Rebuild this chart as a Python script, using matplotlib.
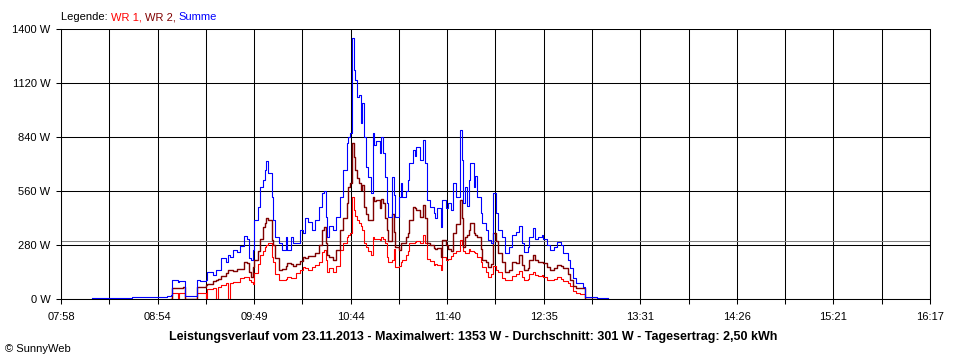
"""SunnyWeb Tagesverlauf 23.11.2013 - Leistung WR 1, WR 2 und Summe."""

import matplotlib

matplotlib.use("Agg")
import matplotlib.pyplot as plt
import numpy as np

plt.rcParams["font.family"] = ["Liberation Sans", "DejaVu Sans"]
plt.rcParams["font.size"] = 8

# Messzeitpunkte (HH:MM) und Leistung in W (None = Linie nicht sichtbar)
zeit = [
    "08:16", "08:26", "08:39", "08:53", "08:59", "09:01", "09:02", "09:05", "09:06", "09:08",
    "09:09", "09:12", "09:15", "09:16", "09:18", "09:21", "09:22", "09:25", "09:27", "09:28",
    "09:30", "09:33", "09:34", "09:35", "09:37", "09:39", "09:41", "09:43", "09:45", "09:46",
    "09:47", "09:48", "09:49", "09:51", "09:52", "09:54", "09:55", "09:56", "09:57", "09:59",
    "10:00", "10:01", "10:03", "10:05", "10:07", "10:08", "10:10", "10:11", "10:13", "10:15",
    "10:17", "10:18", "10:20", "10:22", "10:24", "10:26", "10:28", "10:29", "10:30", "10:31",
    "10:32", "10:34", "10:36", "10:38", "10:40", "10:42", "10:43", "10:44", "10:45", "10:46",
    "10:47", "10:48", "10:49", "10:50", "10:51", "10:52", "10:53", "10:54", "10:56", "10:57",
    "10:58", "10:59", "11:01", "11:02", "11:03", "11:04", "11:05", "11:06", "11:08", "11:09",
    "11:10", "11:12", "11:13", "11:14", "11:16", "11:17", "11:18", "11:20", "11:21", "11:22",
    "11:24", "11:26", "11:27", "11:28", "11:30", "11:32", "11:33", "11:34", "11:36", "11:37",
    "11:39", "11:40", "11:42", "11:43", "11:45", "11:47", "11:48", "11:49", "11:50", "11:51",
    "11:52", "11:53", "11:55", "11:56", "11:57", "11:59", "12:00", "12:02", "12:03", "12:05",
    "12:06", "12:08", "12:09", "12:11", "12:13", "12:15", "12:17", "12:19", "12:21", "12:23",
    "12:24", "12:26", "12:27", "12:29", "12:30", "12:32", "12:34", "12:35", "12:37", "12:39",
    "12:41", "12:43", "12:45", "12:46", "12:49", "12:50", "12:52", "12:54", "12:56", "12:58",
    "12:59", "13:06", "13:12",
]
wr1 = [
    None, None, None, None, None, 0, 31, 0, 32, 31,
    0, 0, 0, 31, 33, 0, 50, 55, 0, 62,
    75, 83, 0, 85, 88, 90, 108, 114, 114, 100,
    88, 80, 135, 180, 228, 250, 270, 280, 290, 218,
    190, 130, 98, 98, 105, 114, 110, 108, 135, 150,
    166, 160, 150, 166, 175, 190, 245, 254, 200, 140,
    160, 140, 170, 254, 290, 322, 330, 340, 529, 461,
    430, 410, 394, 380, 360, 290, 270, 250, 230, 322,
    310, 312, 305, 322, 310, 290, 220, 190, 200, 260,
    166, 170, 190, 200, 230, 250, 290, 290, 295, 300,
    290, 332, 290, 210, 195, 176, 180, 176, 150, 218,
    200, 210, 225, 238, 250, 306, 280, 250, 238, 240,
    260, 250, 245, 238, 220, 190, 166, 140, 114, 130,
    170, 150, 140, 110, 98, 100, 120, 130, 145, 114,
    98, 105, 130, 140, 125, 120, 125, 115, 98, 100,
    105, 114, 105, 95, 83, 65, 40, 31, 25, 25,
    0, None, None,
]
wr2 = [
    None, None, None, None, None, 0, 57, 55, 57, 60,
    0, 0, 0, 62, 62, 73, 80, 95, 100, 105,
    120, 135, 148, 150, 145, 155, 155, 193, 185, 140,
    114, 166, 200, 250, 310, 373, 395, 420, 410, 306,
    280, 215, 150, 155, 170, 187, 180, 170, 180, 195,
    218, 215, 222, 222, 240, 280, 360, 373, 290, 230,
    218, 202, 254, 358, 420, 498, 580, 600, 809, 736,
    669, 630, 601, 565, 590, 477, 440, 410, 410, 529,
    510, 515, 470, 520, 500, 420, 358, 300, 440, 350,
    270, 254, 290, 290, 320, 342, 410, 477, 470, 460,
    425, 487, 420, 290, 280, 264, 260, 264, 218, 306,
    280, 260, 250, 342, 390, 513, 420, 270, 320, 330,
    360, 394, 342, 330, 322, 260, 202, 190, 166, 180,
    342, 300, 240, 190, 140, 150, 190, 185, 228, 176,
    150, 160, 200, 228, 200, 190, 193, 185, 165, 150,
    160, 176, 170, 160, 130, 100, 70, 57, 57, 55,
    0, None, None,
]
summe = [
    5, 6, 9, 12, 16, 20, 98, 90, 92, 95,
    17, 15, 15, 98, 95, 100, 140, 125, 148, 150,
    212, 193, 230, 218, 254, 245, 275, 327, 310, 212,
    202, 254, 410, 477, 580, 617, 669, 715, 653, 529,
    410, 322, 290, 254, 322, 254, 322, 290, 290, 358,
    340, 420, 400, 358, 410, 477, 550, 560, 425, 322,
    380, 358, 425, 529, 669, 809, 840, 860, 1353, 1187,
    1135, 1047, 1060, 912, 1016, 840, 684, 633, 550, 860,
    800, 820, 757, 840, 757, 633, 498, 425, 633, 540,
    425, 529, 601, 529, 560, 617, 705, 772, 740, 788,
    720, 824, 705, 513, 477, 446, 420, 470, 373, 513,
    470, 500, 460, 601, 530, 876, 720, 498, 580, 480,
    617, 705, 580, 640, 530, 446, 394, 360, 306, 290,
    550, 446, 358, 320, 238, 270, 330, 350, 378, 290,
    244, 270, 322, 368, 310, 320, 332, 310, 280, 254,
    270, 296, 280, 238, 202, 160, 109, 83, 85, 62,
    10, 5, 4,
]
durchschnitt = 301

y_ticks = [0, 280, 560, 840, 1120, 1400]
x_labels = ["07:58", "08:54", "09:49", "10:44", "11:40", "12:35", "13:31", "14:26", "15:21", "16:17"]
t_start, t_end = "07:58", "16:17"


def to_min(s):
    h, m = s.split(":")
    return int(h) * 60 + int(m)


def as_float(vals):
    return np.array([np.nan if v is None else v for v in vals], dtype=float)


t = np.array([to_min(s) for s in zeit])
x0, x1 = to_min(t_start), to_min(t_end)

fig = plt.figure(figsize=(9.6, 3.6), dpi=100)
ax = fig.add_axes([61 / 960, 61 / 360, 869 / 960, 270 / 360])

ax.set_xlim(x0, x1)
ax.set_ylim(0, 1400)
ax.set_xticks(np.linspace(x0, x1, len(x_labels)))
ax.set_xticklabels(x_labels)
ax.set_xticks(np.linspace(x0, x1, 2 * len(x_labels) - 1), minor=True)
ax.set_yticks(y_ticks)
ax.set_yticklabels([f"{v} W" for v in y_ticks])

ax.grid(True, which="both", color="black", linewidth=0.75)
ax.tick_params(which="both", direction="out", length=3.6, width=0.75, color="black")
ax.tick_params(axis="x", which="both", pad=6)
ax.tick_params(axis="y", pad=4)
ax.tick_params(axis="x", which="minor", labelbottom=False)
ax.tick_params(labelsize=8)
for sp in ax.spines.values():
    sp.set_linewidth(0.75)
ax.spines["top"].set_visible(False)
ax.set_axisbelow(True)

ax.axhline(durchschnitt, color="#808080", linewidth=0.75, zorder=1.5)

ax.plot(t, as_float(wr1), color="#ff0000", linewidth=0.8, drawstyle="steps-post", zorder=2)
ax.plot(t, as_float(wr2), color="#800000", linewidth=1.0, drawstyle="steps-post", zorder=3)
ax.plot(t, as_float(summe), color="#0000ff", linewidth=0.8, drawstyle="steps-post", zorder=4)

# Legende als farbiger Text ueber dem Diagramm
txt = fig.text(61 / 960, 1 - 17 / 360, "Legende: ", color="black", va="center", ha="left")
for label, col in [("WR 1, ", "#ff0000"), ("WR 2, ", "#800000"), ("Summe", "#0000ff")]:
    txt = ax.annotate(label, xy=(1, 0.5), xycoords=txt, va="center", ha="left", color=col,
                      annotation_clip=False)

fig.text(473 / 960, 1 - 337 / 360,
         f"Leistungsverlauf vom 23.11.2013 - Maximalwert: {max(summe)} W - "
         f"Durchschnitt: {durchschnitt} W - Tagesertrag: 2,50 kWh",
         ha="center", va="center", fontweight="bold", fontsize=9)
fig.text(5 / 960, 1 - 349 / 360, "© SunnyWeb", ha="left", va="center", fontsize=8)

fig.savefig("out.png", dpi=100)
